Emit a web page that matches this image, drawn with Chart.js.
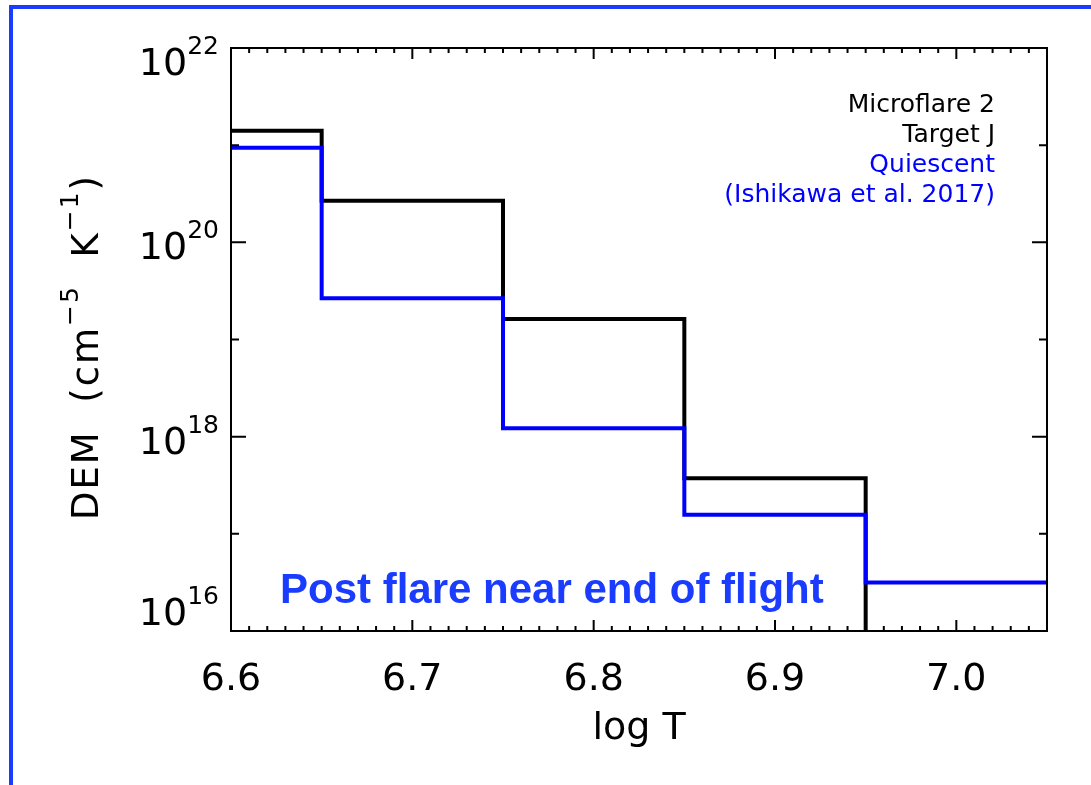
<!DOCTYPE html>
<html>
<head>
<meta charset="utf-8">
<script src="https://cdn.jsdelivr.net/npm/chart.js@4"></script>
<style>
    body { margin: 0; background: #fff; }
    #wrap { position: relative; width: 1091px; height: 785px; overflow: hidden; }
    #frame { position: absolute; left: 9px; top: 5px; width: 1200px; height: 900px;
             border-top: 4px solid #1a3cff; border-left: 4px solid #1a3cff; }
    #dem-chart { position: absolute; left: 0; top: 0; }
</style>
</head>
<body>
<div id="wrap">
    <div id="frame"></div>
    <canvas id="dem-chart" width="1091" height="785"></canvas>
</div>
<script>
// bin edges in log T, one DEM value per bin
const binEdges = [6.6, 6.65, 6.75, 6.85, 6.95, 7.05];
const microflareDem = [1.41e21, 2.68e20, 1.63e19, 3.74e17, 1e15];
const quiescentDem = [9.4e20, 2.66e19, 1.22e18, 1.57e17, 3.16e16];

const xTickValues = [6.6, 6.7, 6.8, 6.9, 7.0];
const xTickLabels = ['6.6', '6.7', '6.8', '6.9', '7.0'];
const yTickExponents = [16, 18, 20, 22];

const legendLines = ['Microflare 2', 'Target J', 'Quiescent', '(Ishikawa et al. 2017)'];
const noteText = 'Post flare near end of flight';

const FONT = '"DejaVu Sans", sans-serif';

// stepped line needs a point at every edge, last bin value repeated at the end
const toSteps = vals => binEdges.map((x, i) => ({ x: x, y: vals[Math.min(i, vals.length - 1)] }));

// text with superscripts, parts = [{t, size, rise}]
function richWidth(ctx, parts) {
    let w = 0;
    parts.forEach(p => {
        ctx.font = `${p.size}px ${FONT}`;
        w += ctx.measureText(p.t).width;
    });
    return w;
}
function drawRich(ctx, parts, x, y) {
    let cx = x;
    parts.forEach(p => {
        ctx.font = `${p.size}px ${FONT}`;
        ctx.textAlign = 'left';
        ctx.fillText(p.t, cx, y - (p.rise || 0));
        cx += ctx.measureText(p.t).width;
    });
}

const axisFrame = {
    id: 'axisFrame',
    afterDatasetsDraw(chart) {
        const { ctx, chartArea: a, scales: { x, y } } = chart;
        ctx.save();
        ctx.strokeStyle = '#000';
        ctx.fillStyle = '#000';
        ctx.lineWidth = 2;
        ctx.strokeRect(a.left, a.top, a.right - a.left, a.bottom - a.top);

        // x ticks, minor every 0.01
        ctx.beginPath();
        for (let i = Math.round(x.min * 100); i <= Math.round(x.max * 100); i++) {
            const px = x.getPixelForValue(i / 100);
            const len = i % 10 === 0 ? 11 : 5;
            ctx.moveTo(px, a.bottom); ctx.lineTo(px, a.bottom - len);
            ctx.moveTo(px, a.top); ctx.lineTo(px, a.top + len);
        }
        // y ticks at every decade
        for (let e = Math.log10(y.min); e <= Math.log10(y.max); e++) {
            const py = y.getPixelForValue(Math.pow(10, e));
            const len = yTickExponents.includes(e) ? 15 : 8;
            ctx.moveTo(a.left, py); ctx.lineTo(a.left + len, py);
            ctx.moveTo(a.right, py); ctx.lineTo(a.right - len, py);
        }
        ctx.stroke();

        // x labels
        ctx.font = `38px ${FONT}`;
        ctx.textAlign = 'center';
        ctx.textBaseline = 'alphabetic';
        x.ticks.forEach((t, i) => {
            ctx.fillText(xTickLabels[i], x.getPixelForValue(t.value), a.bottom + 59);
        });

        // y labels 10^n, kept inside the axis range like IDL does
        y.ticks.forEach(t => {
            const e = Math.round(Math.log10(t.value));
            const py = y.getPixelForValue(t.value);
            const base = Math.min(Math.max(py + 17, a.top + 27), a.bottom - 6);
            const parts = [{ t: '10', size: 38 }, { t: String(e), size: 25, rise: 21 }];
            drawRich(ctx, parts, a.left - 12 - richWidth(ctx, parts), base);
        });

        // axis titles
        ctx.font = `38px ${FONT}`;
        ctx.textAlign = 'center';
        ctx.fillText('log T', (a.left + a.right) / 2, 739);

        const yTitle = [
            { t: 'DEM  (cm', size: 37 },
            { t: '\u22125', size: 25, rise: 20 },
            { t: '  K', size: 37 },
            { t: '\u22121', size: 25, rise: 20 },
            { t: ')', size: 37 }
        ];
        ctx.save();
        ctx.letterSpacing = '2px';
        ctx.translate(98, 347);
        ctx.rotate(-Math.PI / 2);
        drawRich(ctx, yTitle, -richWidth(ctx, yTitle) / 2, 0);
        ctx.restore();

        // legend text, top right
        ctx.font = `25px ${FONT}`;
        ctx.textAlign = 'right';
        const colors = ['#000000', '#000000', '#0000ff', '#0000ff'];
        legendLines.forEach((s, i) => {
            ctx.fillStyle = colors[i];
            ctx.fillText(s, 995, 112 + i * 30);
        });

        // note
        ctx.font = 'bold 42px "Liberation Sans", Arial, sans-serif';
        ctx.textAlign = 'left';
        ctx.fillStyle = '#1a3cff';
        ctx.fillText(noteText, 280, 603);
        ctx.restore();
    }
};

const ctx = document.getElementById('dem-chart').getContext('2d');
new Chart(ctx, {
    type: 'line',
    data: {
        datasets: [
            {
                label: 'Microflare 2 Target J',
                data: toSteps(microflareDem),
                borderColor: '#000000',
                borderWidth: 4,
                stepped: 'before',
                pointRadius: 0,
                order: 1,
            },
            {
                label: 'Quiescent',
                data: toSteps(quiescentDem),
                borderColor: '#0000ff',
                borderWidth: 4,
                stepped: 'before',
                pointRadius: 0,
                order: 0,
            }
        ]
    },
    options: {
        responsive: false,
        animation: false,
        devicePixelRatio: 1,
        layout: {
            padding: { left: 231, top: 48, right: 44, bottom: 154 }
        },
        plugins: {
            legend: { display: false },
            tooltip: { enabled: false },
        },
        scales: {
            x: {
                type: 'linear',
                display: false,
                min: 6.6,
                max: 7.05,
                afterBuildTicks: axis => {
                    axis.ticks = xTickValues.map(v => ({ value: v }));
                },
            },
            y: {
                type: 'logarithmic',
                display: false,
                min: 1e16,
                max: 1e22,
                afterBuildTicks: axis => {
                    axis.ticks = yTickExponents.map(e => ({ value: Math.pow(10, e) }));
                },
            }
        }
    },
    plugins: [axisFrame]
});
</script>
</body>
</html>
